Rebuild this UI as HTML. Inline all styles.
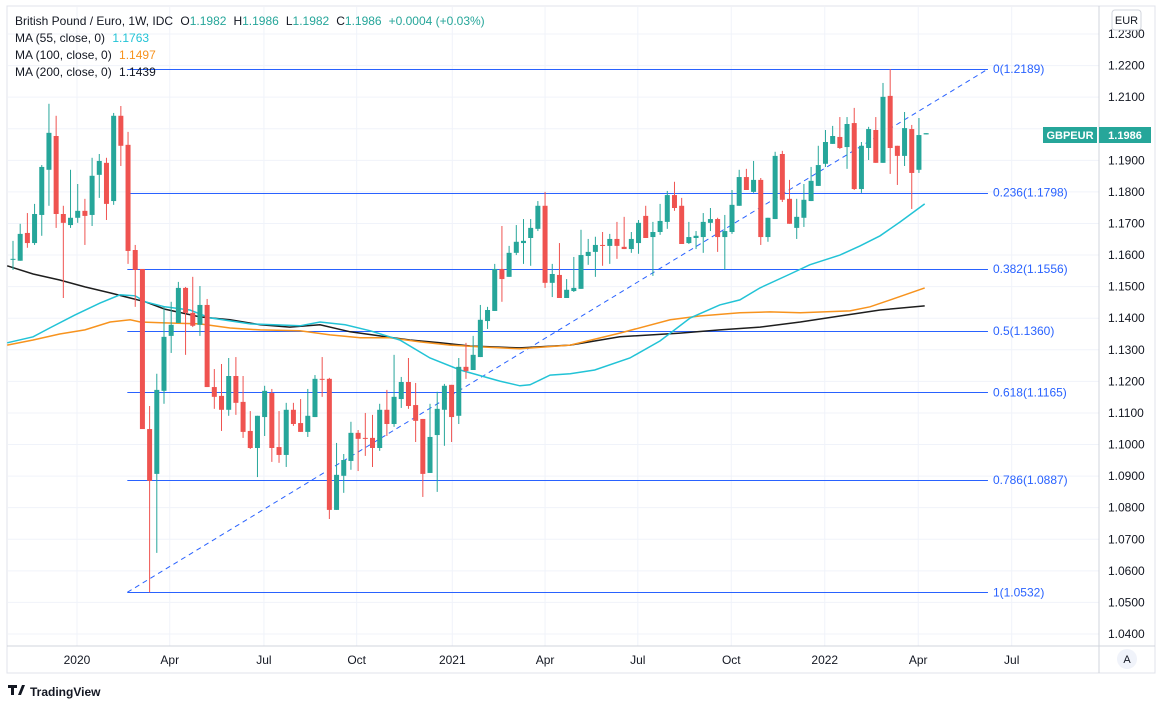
<!DOCTYPE html>
<html><head><meta charset="utf-8"><style>
body{margin:0;background:#fff;width:1157px;height:706px;overflow:hidden;font-family:"Liberation Sans",sans-serif;}
svg{display:block}
text{font-family:"Liberation Sans",sans-serif;}
</style></head><body>
<svg id="chart" width="1157" height="706" viewBox="0 0 1157 706">
<rect x="0" y="0" width="1157" height="706" fill="#fff"/>
<rect x="7" y="6" width="1148" height="667" fill="none" stroke="#e0e3eb"/>
<g id="grid"></g>
<g id="fib"></g>
<g id="mas"></g>
<g id="candles"></g>
<line x1="1099" y1="6" x2="1099" y2="673" stroke="#d1d4dc"/>
<line x1="7" y1="646" x2="1155" y2="646" stroke="#d1d4dc"/>
<g id="yaxis"></g>
<g id="xaxis"></g>
<g font-size="12">
<text x="15" y="25" fill="#131722">British Pound / Euro, 1W, IDC <tspan dx="4" fill="#131722">O</tspan><tspan fill="#26a69a">1.1982</tspan><tspan dx="7" fill="#131722">H</tspan><tspan fill="#26a69a">1.1986</tspan><tspan dx="7" fill="#131722">L</tspan><tspan fill="#26a69a">1.1982</tspan><tspan dx="7" fill="#131722">C</tspan><tspan fill="#26a69a">1.1986</tspan><tspan dx="7" fill="#26a69a">+0.0004 (+0.03%)</tspan></text>
<text x="15" y="42" fill="#131722">MA (55, close, 0) <tspan fill="#22c3d6" dx="4">1.1763</tspan></text>
<text x="15" y="59" fill="#131722">MA (100, close, 0) <tspan fill="#f7931e" dx="4">1.1497</tspan></text>
<text x="15" y="76" fill="#131722">MA (200, close, 0) <tspan fill="#131722" dx="4">1.1439</tspan></text>
</g>
<rect x="1112" y="10" width="29" height="20" rx="3" fill="#fff" stroke="#d1d4dc"/>
<text x="1126.5" y="24" font-size="11" text-anchor="middle" fill="#131722">EUR</text>
<circle cx="1127" cy="659" r="10" fill="#f0f3fa"/>
<text x="1127" y="663" font-size="11" text-anchor="middle" fill="#131722">A</text>
<g>
<path d="M8 685h9v3h-3v7h-3v-7h-3z M18 695l4-10h3l-4 10z" fill="#131722"/>
<text x="30" y="696" font-size="12" font-weight="bold" fill="#131722">TradingView</text>
</g>
<g>
<rect x="1043" y="127" width="54" height="16" fill="#26a69a"/>
<text x="1070" y="139" font-size="11" font-weight="bold" text-anchor="middle" fill="#fff">GBPEUR</text>
<rect x="1099" y="127" width="52" height="16" fill="#26a69a"/>
<text x="1125" y="139" font-size="11" font-weight="bold" text-anchor="middle" fill="#fff">1.1986</text>
</g>
</svg>
<script>
const opens=[1.1585,1.1582,1.1670,1.1638,1.1727,1.1870,1.1977,1.1730,1.1695,1.1718,1.1740,1.1727,1.1854,1.1892,1.1771,1.2041,1.1949,1.1616,1.1556,1.1049,1.0907,1.1170,1.1344,1.1385,1.1496,1.1417,1.1379,1.1442,1.1182,1.1154,1.1110,1.1217,1.1135,1.1043,1.0989,1.1087,1.1163,1.0992,1.0967,1.1110,1.1068,1.1040,1.1087,1.1208,1.1208,1.0793,1.0901,1.0948,1.1037,1.1021,1.1021,1.0989,1.1110,1.1065,1.1144,1.1198,1.1125,1.1081,1.0910,1.1030,1.1110,1.1189,1.1091,1.1246,1.1236,1.1277,1.1391,1.1423,1.1556,1.1531,1.1607,1.1638,1.1654,1.1683,1.1756,1.1512,1.1537,1.1464,1.1486,1.1493,1.1597,1.1610,1.1632,1.1629,1.1651,1.1626,1.1619,1.1638,1.1724,1.1657,1.1673,1.1705,1.1790,1.1756,1.1638,1.1654,1.1657,1.1702,1.1714,1.1657,1.1673,1.1756,1.1847,1.1800,1.1838,1.1657,1.1714,1.1920,1.1778,1.1686,1.1718,1.1771,1.1819,1.1889,1.1952,1.1974,1.1942,1.2018,1.1809,1.1939,1.1996,1.1892,1.2104,1.1946,1.1914,1.1999,1.1870,1.1982];
const highs=[1.1645,1.1699,1.1733,1.1762,1.1885,1.2079,1.2041,1.1756,1.1870,1.1825,1.1778,1.1908,1.1920,1.1908,1.2050,1.2072,1.1990,1.1632,1.1556,1.1122,1.1224,1.1436,1.1452,1.1515,1.1499,1.1531,1.1502,1.1461,1.1239,1.1255,1.1274,1.1277,1.1217,1.1106,1.1091,1.1186,1.1176,1.1106,1.1132,1.1132,1.1144,1.1176,1.1220,1.1277,1.1211,1.1005,1.0970,1.1072,1.1046,1.1100,1.1094,1.1129,1.1173,1.1284,1.1214,1.1274,1.1195,1.1081,1.1129,1.1167,1.1192,1.1189,1.1274,1.1322,1.1344,1.1442,1.1436,1.1572,1.1692,1.1629,1.1695,1.1714,1.1714,1.1771,1.1800,1.1572,1.1638,1.1524,1.1594,1.1680,1.1651,1.1658,1.1673,1.1667,1.1705,1.1721,1.1673,1.1711,1.1756,1.1705,1.1762,1.1803,1.1832,1.1781,1.1705,1.1676,1.1733,1.1749,1.1718,1.1727,1.1806,1.1870,1.1873,1.1898,1.1844,1.1718,1.1927,1.1930,1.1838,1.1778,1.1825,1.1879,1.1946,1.1996,1.2009,1.2037,1.2037,1.2066,1.1958,1.2006,1.2037,1.2145,1.2189,1.1946,1.2053,1.2012,1.2034,1.1986];
const lows=[1.1553,1.1582,1.1623,1.1632,1.1661,1.1756,1.1686,1.1464,1.1686,1.1702,1.1632,1.1692,1.1781,1.1711,1.1759,1.1882,1.1572,1.1436,1.1049,1.0532,1.0657,1.1129,1.1290,1.1385,1.1284,1.1372,1.1344,1.1182,1.1113,1.1043,1.1091,1.1094,1.1021,1.0986,1.0897,1.1027,1.0945,1.0942,1.0929,1.1059,1.1040,1.1024,1.1087,1.1151,1.0764,1.0793,1.0847,1.0920,1.0916,1.0964,1.0929,1.0980,1.1027,1.1056,1.1116,1.1113,1.1008,1.0834,1.0910,1.0850,1.0996,1.1008,1.1065,1.1208,1.1236,1.1277,1.1366,1.1423,1.1452,1.1531,1.1600,1.1572,1.1566,1.1676,1.1496,1.1467,1.1464,1.1464,1.1483,1.1493,1.1569,1.1531,1.1566,1.1572,1.1588,1.1619,1.1607,1.1604,1.1654,1.1534,1.1664,1.1683,1.1740,1.1635,1.1635,1.1619,1.1607,1.1676,1.1610,1.1553,1.1667,1.1756,1.1806,1.1797,1.1632,1.1642,1.1714,1.1768,1.1699,1.1651,1.1689,1.1771,1.1819,1.1879,1.1952,1.1936,1.1873,1.1806,1.1797,1.1901,1.1892,1.1892,1.1857,1.1822,1.1882,1.1746,1.1860,1.1982];
const closes=[1.1588,1.1667,1.1638,1.1730,1.1879,1.1987,1.1730,1.1702,1.1718,1.1740,1.1724,1.1851,1.1898,1.1762,1.2041,1.1946,1.1613,1.1553,1.1049,1.0885,1.1173,1.1341,1.1379,1.1496,1.1417,1.1376,1.1442,1.1182,1.1151,1.1110,1.1217,1.1132,1.1040,1.0989,1.1091,1.1170,1.0989,1.0967,1.1110,1.1065,1.1040,1.1091,1.1208,1.1205,1.0793,1.0904,1.0951,1.1037,1.1018,1.1018,1.0989,1.1110,1.1065,1.1151,1.1198,1.1122,1.1075,1.0907,1.1024,1.1113,1.1186,1.1087,1.1246,1.1233,1.1284,1.1395,1.1426,1.1556,1.1524,1.1607,1.1642,1.1645,1.1686,1.1756,1.1512,1.1540,1.1464,1.1490,1.1496,1.1600,1.1610,1.1632,1.1629,1.1651,1.1629,1.1619,1.1651,1.1702,1.1654,1.1673,1.1708,1.1790,1.1749,1.1635,1.1657,1.1661,1.1705,1.1714,1.1657,1.1676,1.1759,1.1847,1.1806,1.1838,1.1657,1.1718,1.1914,1.1775,1.1699,1.1721,1.1775,1.1835,1.1885,1.1958,1.1977,1.1939,1.2015,1.1809,1.1946,1.1999,1.1892,1.2101,1.1939,1.1914,1.2002,1.1860,1.1980,1.1986];
const ma55Idx=[-0.8,2.8,5.1,8.6,12.1,14.9,17,18.4,21.1,24.6,27.4,33,39.9,42.7,46.2,49.7,53.8,58,62.2,67.7,70.5,71.9,74.7,77.5,80.9,85.8,90,94.2,98.3,101.1,103.9,108.1,110.8,115,117.8,120.6,123.4,126.8];
const ma55Val=[1.1322,1.1341,1.1369,1.1410,1.1448,1.1474,1.1471,1.1452,1.1436,1.1426,1.1401,1.1382,1.1376,1.1388,1.1379,1.1360,1.1331,1.1274,1.1236,1.1201,1.1186,1.1189,1.1220,1.1224,1.1236,1.1274,1.1328,1.1401,1.1442,1.1458,1.1496,1.1540,1.1569,1.1600,1.1629,1.1661,1.1705,1.1762];
const ma100Idx=[-0.8,2.8,6.5,10,13.5,16.3,17.7,21.1,26,30.2,34.4,39.9,44.1,48.3,52.4,56.6,60.8,65,70.5,77.5,84.4,91.4,95.5,101.1,105.3,109.5,116.4,119.2,122,126.8];
const ma100Val=[1.1315,1.1331,1.1350,1.1363,1.1388,1.1395,1.1388,1.1385,1.1382,1.1369,1.1363,1.1360,1.1347,1.1338,1.1338,1.1325,1.1315,1.1309,1.1303,1.1315,1.1353,1.1395,1.1407,1.1417,1.1420,1.1417,1.1423,1.1436,1.1458,1.1496];
const ma200Idx=[-0.8,2.8,6.5,10,13.5,16.3,18.4,21.1,26,30.2,34.4,38.5,42.7,46.9,51,55.2,59.4,63.6,70.5,77.5,84.4,92.8,98.3,103.9,109.5,115,120.6,126.8];
const ma200Val=[1.1566,1.1540,1.1521,1.1499,1.1480,1.1464,1.1452,1.1429,1.1404,1.1395,1.1379,1.1372,1.1379,1.1357,1.1344,1.1331,1.1322,1.1312,1.1306,1.1315,1.1341,1.1353,1.1363,1.1372,1.1388,1.1407,1.1426,1.1439];
const fibRatios=["0","0.236","0.382","0.5","0.618","0.786","1"];
const fibPrices=[1.2189,1.1798,1.1556,1.1360,1.1165,1.0887,1.0532];
const fibHigh=1.2189, fibLow=1.0532;
const fibStartIdx=15.9, fibEndIdx=135.6, fibLowIdx=15.9;
const yTicks=[1.23,1.22,1.21,1.20,1.19,1.18,1.17,1.16,1.15,1.14,1.13,1.12,1.11,1.10,1.09,1.08,1.07,1.06,1.05,1.04];
const xTickIdx=[8.9,21.8,34.9,47.8,61.1,74.0,86.9,99.9,112.9,125.9,138.9];
const xTickLabels=["2020","Apr","Jul","Oct","2021","Apr","Jul","Oct","2022","Apr","Jul"];

const NS="http://www.w3.org/2000/svg";
function X(i){return 13+i*7.19;}
function Y(p){return 34+(1.23-p)*3157.9;}
function mk(tag,attrs,parent){const e=document.createElementNS(NS,tag);for(const k in attrs)e.setAttribute(k,attrs[k]);parent.appendChild(e);return e;}
const grid=document.getElementById('grid'),yax=document.getElementById('yaxis'),xax=document.getElementById('xaxis');
yTicks.forEach(v=>{
  const l=mk('line',{x1:8,x2:1099,y1:Y(v),y2:Y(v),stroke:'#f0f3fa'},grid);
  
  
  if(Math.abs(v-1.20)<1e-6) return;
  const t=mk('text',{x:1108,y:Y(v)+4,'font-size':12,fill:'#131722'},yax);
  t.textContent=v.toFixed(4);
  
  
});
xTickIdx.forEach((ix,k)=>{
  const l=mk('line',{x1:X(ix),x2:X(ix),y1:7,y2:646,stroke:'#f0f3fa'},grid);
  
  
  const t=mk('text',{x:X(ix),y:664,'font-size':12,fill:'#131722','text-anchor':'middle'},xax);
  t.textContent=xTickLabels[k];
  
  
});
const fib=document.getElementById('fib');
const tl=mk('line',{x1:X(fibLowIdx),y1:Y(fibLow),x2:X(fibEndIdx),y2:Y(fibHigh),stroke:'#2962ff','stroke-width':1,'stroke-dasharray':'5,4'},fib);


fibRatios.forEach((r,k)=>{
  const p=fibPrices[k];
  const l=mk('line',{x1:X(fibStartIdx),x2:X(fibEndIdx),y1:Math.round(Y(p))+0.5,y2:Math.round(Y(p))+0.5,stroke:'#2962ff','stroke-width':1},fib);
  
  
  const t=mk('text',{x:X(fibEndIdx)+5,y:Y(p)+4,'font-size':12,fill:'#2962ff'},fib);
  t.textContent=r+'('+p.toFixed(4)+')';
  
  
});
const mas=document.getElementById('mas');
function maLine(idx,val,color,name){
  const d=idx.map((ix,k)=>(k?'L':'M')+X(ix).toFixed(1)+' '+Y(val[k]).toFixed(1)).join(' ');
  const p=mk('path',{d:d,fill:'none',stroke:color,'stroke-width':1.5},mas);
  
  
}
maLine(ma200Idx,ma200Val,'#1e1e1e','ma200-line');
maLine(ma100Idx,ma100Val,'#f7931e','ma100-line');
maLine(ma55Idx,ma55Val,'#22c3d6','ma55-line');
const cg=document.getElementById('candles');
opens.forEach((o,i)=>{
  const c=closes[i],up=c>=o,col=up?'#26a69a':'#ef5350',x=X(i);
  const w=mk('line',{x1:x,x2:x,y1:Y(highs[i]),y2:Y(lows[i]),stroke:col,'stroke-width':1},cg);
  
  
  const top=Y(Math.max(o,c)),bot=Y(Math.min(o,c));
  const b=mk('rect',{x:x-2.5,y:top,width:5,height:Math.max(1,bot-top),fill:col},cg);
  
  
});
</script>
</body></html>
